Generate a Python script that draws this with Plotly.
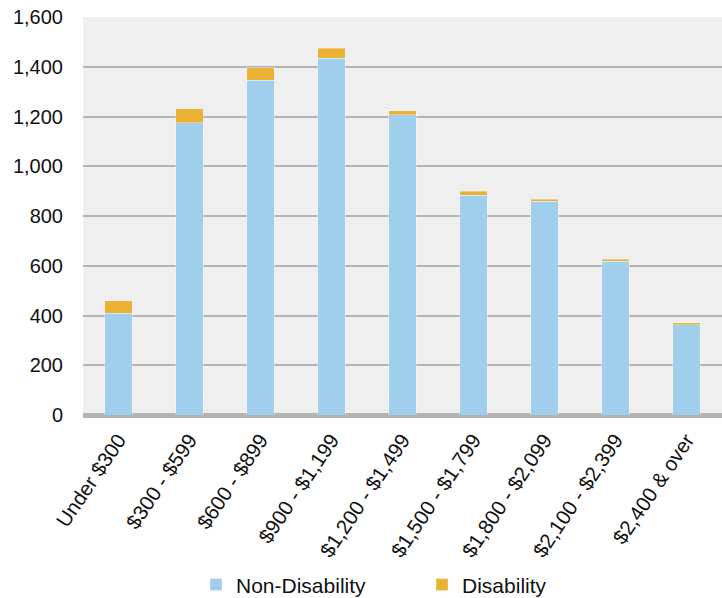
import plotly.graph_objects as go

# Weekly income bands and counts for each group
bands = ["Under $300", "$300 - $599", "$600 - $899", "$900 - $1,199",
         "$1,200 - $1,499", "$1,500 - $1,799", "$1,800 - $2,099",
         "$2,100 - $2,399", "$2,400 & over"]
non_disability = [410, 1175, 1345, 1435, 1208, 884, 860, 618, 363]
disability = [50, 57, 50, 40, 16, 15, 8, 8, 8]

y_ticks = [0, 200, 400, 600, 800, 1000, 1200, 1400, 1600]

FONT = "Liberation Sans, Arial, sans-serif"

fig = go.Figure()
fig.add_trace(go.Bar(
    x=bands, y=non_disability, name="Non-Disability",
    marker=dict(color="#9fcfec", line=dict(color="rgba(255,255,255,0.35)", width=1)),
))
fig.add_trace(go.Bar(
    x=bands, y=disability, name="Disability",
    marker=dict(color="#ebb133", line=dict(color="rgba(255,255,255,0.35)", width=1)),
))

fig.update_layout(
    barmode="stack",
    bargap=0.61,
    width=722, height=598,
    margin=dict(l=83, r=0, t=17, b=183),
    paper_bgcolor="white",
    plot_bgcolor="#efefef",
    font=dict(family=FONT, size=20, color="#111111"),
    showlegend=True,
    legend=dict(
        orientation="h",
        xref="container", yref="container",
        x=0.2715, y=0.022, xanchor="left", yanchor="middle",
        entrywidth=181, entrywidthmode="pixels",
        font=dict(family=FONT, size=21, color="#111111"),
        traceorder="normal",
    ),
)

fig.update_yaxes(
    range=[0, 1600],
    tickvals=y_ticks,
    ticktext=[f"{v:,}" for v in y_ticks],
    tickfont=dict(size=20),
    showgrid=True, gridcolor="#b4b4b4", gridwidth=2,
    zeroline=True, zerolinecolor="#b3b3b3", zerolinewidth=5,
    ticks="", ticklabelstandoff=19,
    fixedrange=True,
)
fig.update_xaxes(
    tickangle=-56,
    tickfont=dict(size=20.5),
    ticks="", showline=False,
    ticklabelstandoff=8,
    fixedrange=True,
)

fig.write_html("out.html")
